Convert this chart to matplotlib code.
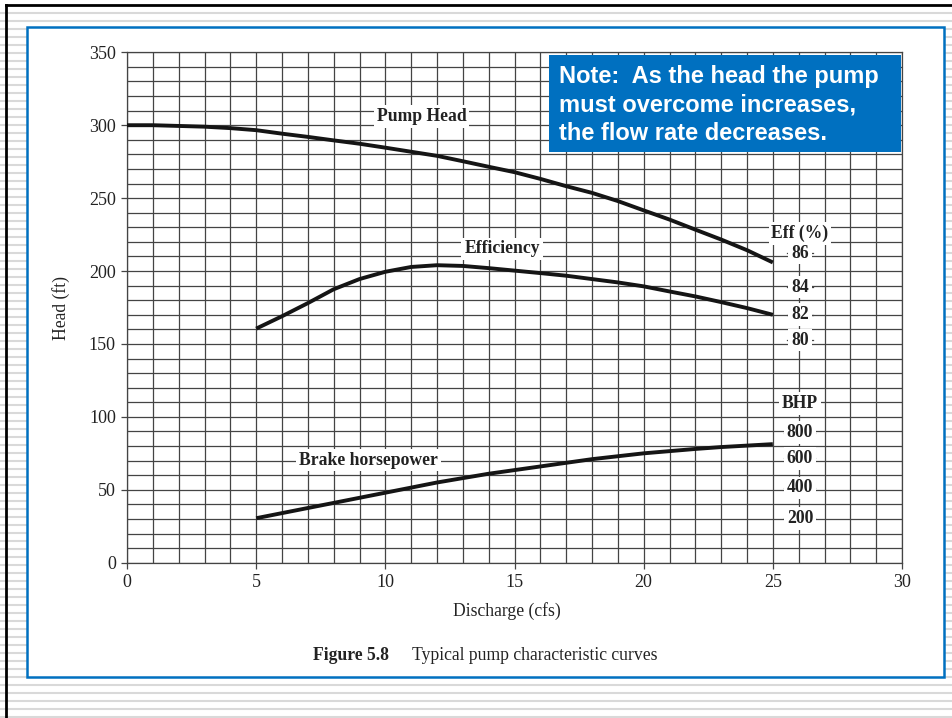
import matplotlib.pyplot as plt
import numpy as np
from matplotlib.patches import Rectangle
from matplotlib.lines import Line2D

# curves (head axis units, ft)
discharge_head = list(range(0, 26))
pump_head = [300, 300, 299.5, 299, 298, 296.6, 294.2, 292, 289.6, 287.3, 284.6, 281.8, 279,
             275.3, 271.5, 267.8, 263.2, 258.2, 253.6, 248, 241.6, 235.3, 228.4, 221.6,
             214.3, 205.9]

discharge = list(range(5, 26))
efficiency = [160.5, 169, 178, 187.5, 194.5, 199.5, 202.8, 204, 203.5, 202, 200.3, 198.6,
              196.8, 194.5, 192.2, 189.5, 186, 182.6, 178.7, 174.6, 170]
brake_hp = [30.5, 34, 37.5, 41, 44.5, 48, 51.5, 55, 58, 61, 63.5, 66, 68.5, 71, 73, 75,
            76.5, 78, 79.3, 80.3, 81.3]

# secondary scales printed at Q = 26 (value, level on head axis)
eff_scale = ['86', '84', '82', '80']
eff_scale_head = [212.3, 189, 170, 152.7]
bhp_scale = ['800', '600', '400', '200']
bhp_scale_head = [89.2, 71.6, 51.3, 30.4]

W, H = 952, 718
fig = plt.figure(figsize=(W / 100, H / 100), dpi=100)
serif = 'Liberation Serif'
ink = '#222222'


def px(x, y):
    return x / W, 1 - y / H


# slide background: grey stripes, black frame, blue box
for k in range(90):
    yy = 12.7 + 8 * k
    fig.add_artist(Line2D([0, 1], [1 - yy / H] * 2, color='#d9d9d9', lw=1.5, zorder=-3))
fig.add_artist(Line2D([6 / W, 1], [1 - 5 / H] * 2, color='black', lw=2, zorder=-2))
fig.add_artist(Line2D([6 / W] * 2, [0, 1 - 5 / H], color='black', lw=2, zorder=-2))
fig.add_artist(Rectangle(px(27, 677), 917 / W, 650 / H, facecolor='white',
                         edgecolor='#0070C0', lw=1.8, zorder=-1))

ax = fig.add_axes([127 / W, 1 - 562.7 / H, 775 / W, 510.4 / H])
ax.set_xlim(0, 30)
ax.set_ylim(0, 350)
ax.set_xticks(np.arange(0, 31, 5))
ax.set_yticks(np.arange(0, 351, 50))
ax.set_xticks(np.arange(0, 31, 1), minor=True)
ax.set_yticks(np.arange(0, 351, 10), minor=True)
ax.grid(True, which='both', color='#444444', lw=0.9)
ax.set_axisbelow(True)
ax.tick_params(which='minor', length=0)
ax.tick_params(which='major', length=4, width=0.9, color='#444444', pad=4,
               labelsize=13, labelcolor=ink)
for lab in ax.get_xticklabels() + ax.get_yticklabels():
    lab.set_fontfamily(serif)
for s in ax.spines.values():
    s.set_color('#444444')
    s.set_linewidth(0.9)

ax.set_xlabel('Discharge (cfs)', fontsize=12.7, family=serif, color=ink)
ax.set_ylabel('Head (ft)', fontsize=12.7, family=serif, color=ink)
ax.xaxis.set_label_coords(0.49, -0.077)
ax.yaxis.set_label_coords(-0.074, 0.5)

lw = 2.8
for xs, ys in [(discharge_head, pump_head), (discharge, efficiency), (discharge, brake_hp)]:
    ax.plot(xs, ys, color='#151515', lw=lw, solid_capstyle='butt',
            solid_joinstyle='round', zorder=3)

box = dict(facecolor='white', edgecolor='none', pad=2)
lab_kw = dict(fontsize=12.7, family=serif, weight='bold', color=ink,
              ha='center', va='center', bbox=box, zorder=4)
ax.text(11.41, 306, 'Pump Head', **lab_kw)
ax.text(14.52, 215.2, 'Efficiency', **lab_kw)
ax.text(9.34, 70.4, 'Brake horsepower', **lab_kw)

# secondary scales
ax.text(26.05, 226, 'Eff (%)', **lab_kw)
for lab, yy in zip(eff_scale, eff_scale_head):
    ax.plot([25.55, 26.55], [yy, yy], color='#444444', lw=0.9, zorder=3)
    ax.text(26.05, yy, lab, **lab_kw)
ax.text(26.05, 109.3, 'BHP', **lab_kw)
for lab, yy in zip(bhp_scale, bhp_scale_head):
    ax.plot([25.45, 26.65], [yy, yy], color='#444444', lw=0.9, zorder=3)
    ax.text(26.05, yy, lab, **lab_kw)

# note box
fig.add_artist(Rectangle(px(549, 152), 352 / W, 97 / H, facecolor='#0070C0',
                         edgecolor='none', zorder=5))
fig.text(559 / W, 1 - 65 / H,
         'Note:  As the head the pump\nmust overcome increases,\nthe flow rate decreases.',
         color='white', fontsize=17, weight='bold', family='Liberation Sans',
         ha='left', va='top', linespacing=1.3, zorder=6)

# caption
fig.text(313 / W, 1 - 655 / H, 'Figure 5.8', fontsize=12.7, family=serif, weight='bold',
         color=ink, ha='left', va='center')
fig.text(412 / W, 1 - 655 / H, 'Typical pump characteristic curves', fontsize=12.7,
         family=serif, color=ink, ha='left', va='center')

fig.savefig('out.png', dpi=100)
